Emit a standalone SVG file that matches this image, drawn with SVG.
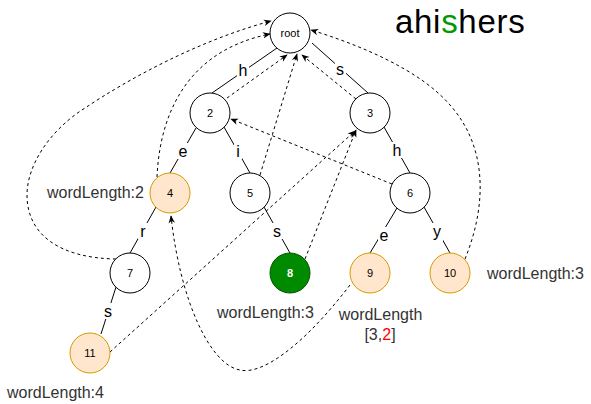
<svg xmlns="http://www.w3.org/2000/svg" width="591" height="404" viewBox="0 0 591 404">
<defs>
<style>
.n{fill:#fff;stroke:#000;stroke-width:1}
.o{fill:#ffe6cc;stroke:#d79b00;stroke-width:1}
.g{fill:#008a00;stroke:#005700;stroke-width:1}
.nt{font-family:"Liberation Sans",Arial,sans-serif;font-size:11px;fill:#000;text-anchor:middle}
.e{stroke:#000;stroke-width:1;fill:none}
.d{stroke:#000;stroke-width:1;fill:none;stroke-dasharray:3 3;marker-end:url(#arr)}
.lb{fill:#fff}
.el{font-family:"Liberation Sans",Arial,sans-serif;font-size:16px;fill:#000;text-anchor:middle}
.t{font-family:"Liberation Sans",Arial,sans-serif;font-size:16px;fill:#333}
</style>
<marker id="arr" viewBox="0 0 10 10" refX="9" refY="5" markerWidth="8" markerHeight="8" markerUnits="userSpaceOnUse" orient="auto">
<path d="M0,1 L10,5 L0,9 L3,5 Z" fill="#000"/>
</marker>
</defs>
<rect width="591" height="404" fill="#fff"/>

<g id="connectors">
<line class="e" x1="277" y1="48" x2="212" y2="93"/>
<line class="e" x1="312" y1="43" x2="368" y2="93"/>
<line class="e" x1="196" y1="128" x2="170" y2="173"/>
<line class="e" x1="224" y1="127" x2="250" y2="173"/>
<line class="e" x1="384" y1="127" x2="410" y2="173"/>
<line class="e" x1="156" y1="207" x2="130" y2="253"/>
<line class="e" x1="264" y1="207" x2="290" y2="253"/>
<line class="e" x1="397" y1="208" x2="370" y2="253"/>
<line class="e" x1="424" y1="207" x2="450" y2="253"/>
<line class="e" x1="116" y1="287" x2="101" y2="334"/>

<rect class="lb" x="237" y="62" width="12" height="16"/>
<text class="el" x="243" y="76">h</text>
<rect class="lb" x="335" y="62" width="11" height="16"/>
<text class="el" x="340" y="75">s</text>
<rect class="lb" x="177" y="143" width="12" height="16"/>
<text class="el" x="183" y="157">e</text>
<rect class="lb" x="234" y="142" width="8" height="17"/>
<text class="el" x="238" y="157">i</text>
<rect class="lb" x="391" y="142" width="12" height="16"/>
<text class="el" x="397" y="156">h</text>
<rect class="lb" x="138" y="223" width="10" height="16"/>
<text class="el" x="143" y="237">r</text>
<rect class="lb" x="271" y="223" width="12" height="16"/>
<text class="el" x="277" y="237">s</text>
<rect class="lb" x="378" y="227" width="12" height="16"/>
<text class="el" x="384" y="241">e</text>
<rect class="lb" x="431" y="223" width="12" height="18"/>
<text class="el" x="437" y="237">y</text>
<rect class="lb" x="102" y="303" width="12" height="16"/>
<text class="el" x="108" y="317">s</text>

<path class="d" d="M116,259 C60,258 27,235 27,195 C27,165 50,130 85,108 C130,78 200,40 271,21"/>
<path class="d" d="M157,177 C160,110 190,50 270,34"/>
<line class="d" x1="227" y1="98" x2="287" y2="55"/>
<line class="d" x1="260" y1="175" x2="297" y2="54"/>
<line class="d" x1="356" y1="99" x2="302" y2="55"/>
<path class="d" d="M465,259 C485,210 490,150 450,105 C420,70 360,45 311,30"/>
<line class="d" x1="392" y1="184" x2="231" y2="119"/>
<line class="d" x1="305" y1="259" x2="356" y2="130"/>
<line class="d" x1="110" y1="352" x2="355" y2="131"/>
<path class="d" d="M350,285 C300,350 260,375 240,370 C210,365 180,300 171,216"/>
</g>

<g id="node-root"><circle class="n" cx="290" cy="33" r="20"/><text class="nt" x="290" y="37">root</text></g>
<g id="node-2"><circle class="n" cx="210" cy="113" r="20"/><text class="nt" x="210" y="117">2</text></g>
<g id="node-3"><circle class="n" cx="370" cy="113" r="20"/><text class="nt" x="370" y="117">3</text></g>
<g id="node-4"><circle class="o" cx="170" cy="193" r="20"/><text class="nt" x="170" y="197">4</text></g>
<g id="node-5"><circle class="n" cx="250" cy="193" r="20"/><text class="nt" x="250" y="197">5</text></g>
<g id="node-6"><circle class="n" cx="410" cy="193" r="20"/><text class="nt" x="410" y="197">6</text></g>
<g id="node-7"><circle class="n" cx="130" cy="273" r="20"/><text class="nt" x="130" y="277">7</text></g>
<g id="node-8"><circle class="g" cx="290" cy="273" r="20"/><text class="nt" x="290" y="277" fill="#fff" style="fill:#fff;font-weight:bold">8</text></g>
<g id="node-9"><circle class="o" cx="370" cy="273" r="20"/><text class="nt" x="370" y="277">9</text></g>
<g id="node-10"><circle class="o" cx="450" cy="273" r="20"/><text class="nt" x="450" y="277">10</text></g>
<g id="node-11"><circle class="o" cx="90" cy="353" r="20"/><text class="nt" x="90" y="357">11</text></g>

<g id="labels">
<text class="t" x="47" y="198">wordLength:2</text>
<text class="t" x="487" y="279">wordLength:3</text>
<text class="t" x="217" y="318">wordLength:3</text>
<text class="t" x="380.5" y="320" text-anchor="middle">wordLength</text>
<text class="t" x="380" y="340" text-anchor="middle">[3,<tspan fill="#ff0000">2</tspan>]</text>
<text class="t" x="7" y="398">wordLength:4</text>
</g>

<g id="title">
<text x="395" y="33" font-family="'Liberation Sans',Arial,sans-serif" font-size="33" letter-spacing="0.7" fill="#000">ahi<tspan fill="#009900">s</tspan>hers</text>
</g>
</svg>
